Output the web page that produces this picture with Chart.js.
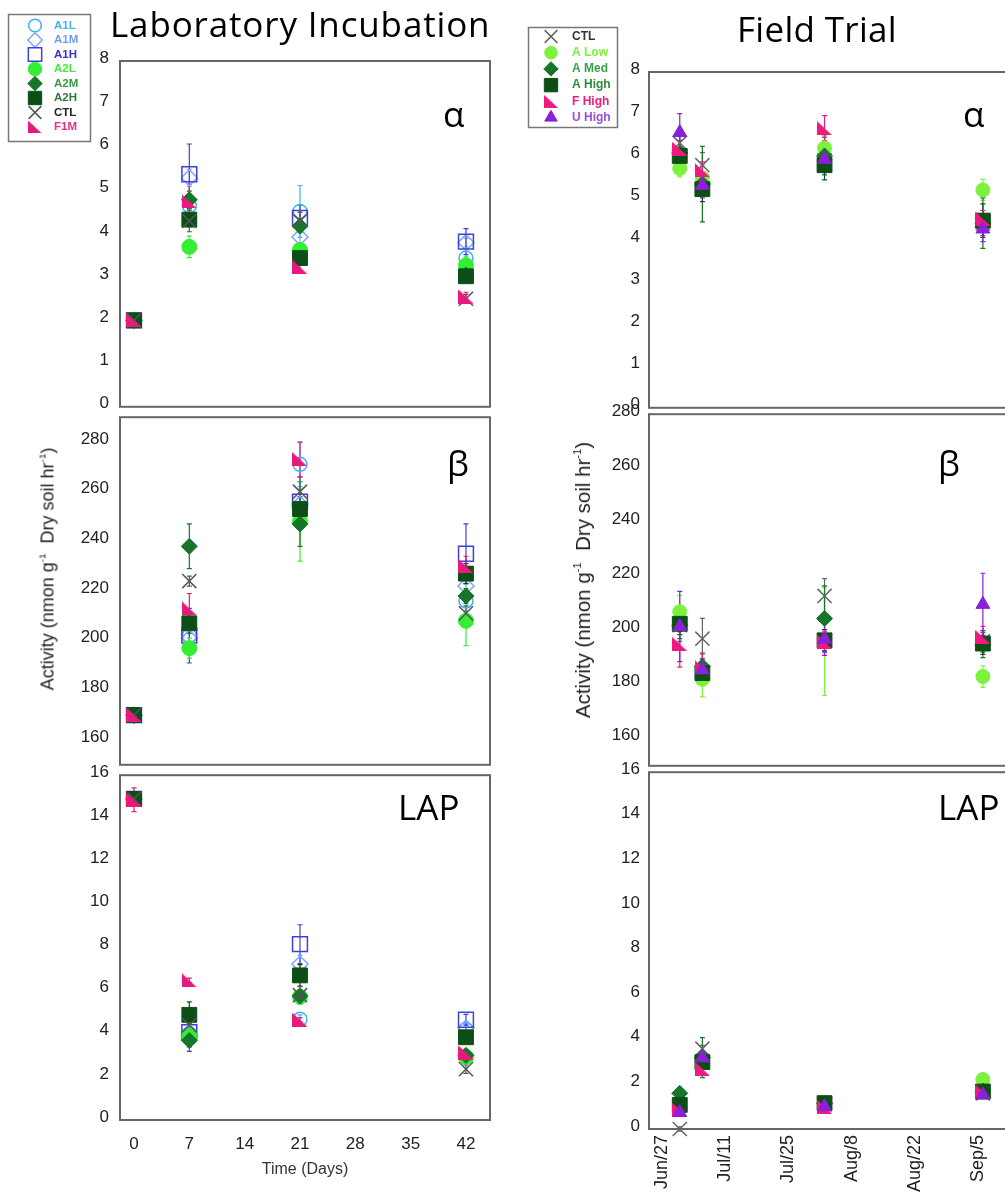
<!DOCTYPE html>
<html><head><meta charset="utf-8">
<script src="https://cdn.jsdelivr.net/npm/chart.js@4.4.1/dist/chart.umd.min.js"></script>
<style>
html,body{margin:0;padding:0;background:#fff;overflow:hidden;width:1005px;height:1196px;}
canvas{position:absolute;}
.txt{position:absolute;white-space:nowrap;color:#000;}
.big{font-family:'Open Sans',sans-serif;font-size:35px;line-height:35px;}
.ylab{font-family:'Liberation Sans',Arial,sans-serif;color:#222;transform:translate(-50%,-50%) rotate(-90deg);}
.ylab sup{font-size:0.55em;vertical-align:0.8em;line-height:0;}
#right{position:absolute;left:500px;top:0;width:505px;height:1196px;overflow:hidden;}
</style></head><body>
<canvas id="la" width="505" height="428" style="left:0;top:0"></canvas>
<canvas id="lb" width="505" height="390" style="left:0;top:396px"></canvas>
<canvas id="ll" width="505" height="442" style="left:0;top:754px"></canvas>
<div id="right">
<canvas id="ra" width="600" height="427" style="left:0;top:0"></canvas>
<canvas id="rb" width="600" height="390" style="left:0;top:395px"></canvas>
<canvas id="rl" width="600" height="443" style="left:0;top:753px"></canvas>
</div>
<div class="txt big" style="left:110px;top:6px;letter-spacing:0.85px">Laboratory Incubation</div>
<div class="txt big" style="left:737px;top:11px;letter-spacing:0.3px">Field Trial</div>
<div class="txt big" style="left:443px;top:96px">α</div>
<div class="txt big" style="left:447px;top:445px">β</div>
<div class="txt big" style="left:398px;top:789px">LAP</div>
<div class="txt big" style="left:963px;top:96px">α</div>
<div class="txt big" style="left:938px;top:445px">β</div>
<div class="txt big" style="left:938px;top:789px">LAP</div>
<div class="txt ylab" style="left:48px;top:569px;font-size:18px">Activity (nmon g<sup>-1</sup>&nbsp; Dry soil hr<sup>-1</sup>)</div>
<div class="txt ylab" style="left:583px;top:580px;font-size:20.5px">Activity (nmon g<sup>-1</sup>&nbsp; Dry soil hr<sup>-1</sup>)</div>
<script>
// ---------- DATA ----------
const labDays = [0, 7, 21, 42];
const labNames = ['A1L', 'A1M', 'A1H', 'A2L', 'A2M', 'A2H', 'CTL', 'F1M'];
const labXTicks = [0, 7, 14, 21, 28, 35, 42];
const labXTickLabels = ['0', '7', '14', '21', '28', '35', '42'];

const labAlphaMean = [
  [2.0, 4.65, 4.52, 3.44],
  [2.0, 5.30, 3.93, 3.80],
  [2.0, 5.38, 4.37, 3.82],
  [2.0, 3.70, 3.63, 3.27],
  [2.0, 4.79, 4.18, 3.05],
  [2.0, 4.33, 3.44, 3.02],
  [2.0, 4.30, 4.30, 2.50],
  [2.0, 4.75, 3.23, 2.55]
];
const labAlphaErr = [
  [0.05, 0.10, 0.60, 0.20],
  [0.05, 0.20, 0.20, 0.10],
  [0.05, 0.70, 0.30, 0.30],
  [0.05, 0.25, 0.15, 0.20],
  [0.05, 0.20, 0.15, 0.15],
  [0.05, 0.15, 0.15, 0.10],
  [0.05, 0.25, 0.20, 0.10],
  [0.05, 0.40, 0.10, 0.10]
];
const labBetaMean = [
  [170, 202, 271, 216],
  [170, 201, 255, 222],
  [170, 202, 256, 235],
  [170, 197, 248, 208],
  [170, 238, 247, 218],
  [170, 207, 253, 227],
  [170, 224, 260, 211],
  [170, 213, 273, 230]
];
const labBetaErr = [
  [1, 3, 9, 4],
  [1, 3, 6, 3],
  [1, 11, 8, 12],
  [1, 4, 16, 10],
  [1, 9, 9, 3],
  [1, 4, 5, 4],
  [1, 2, 6, 3],
  [1, 6, 7, 4]
];
const labLapMean = [
  [14.9, 4.00, 4.68, 4.20],
  [14.9, 3.90, 7.24, 4.27],
  [14.9, 4.08, 8.16, 4.65],
  [14.9, 3.89, 5.72, 2.93],
  [14.9, 3.69, 5.75, 3.00],
  [14.9, 4.88, 6.71, 3.84],
  [14.9, 4.40, 5.79, 2.36],
  [14.86, 6.48, 4.65, 3.13]
];
const labLapErr = [
  [0.2, 0.2, 0.2, 0.2],
  [0.2, 0.3, 0.4, 0.2],
  [0.2, 0.9, 0.9, 0.25],
  [0.2, 0.3, 0.3, 0.2],
  [0.2, 0.3, 0.3, 0.2],
  [0.2, 0.6, 0.5, 0.2],
  [0.2, 0.3, 0.4, 0.2],
  [0.55, 0.1, 0.1, 0.1]
];

// field: days after Jun 27
const fieldDays = [4, 9, 36, 71];
const fieldNames = ['CTL', 'A Low', 'A Med', 'A High', 'F High', 'U High'];
const fieldXTicks = [0, 14, 28, 42, 56, 70];
const fieldXTickLabels = ['Jun/27', 'Jul/11', 'Jul/25', 'Aug/8', 'Aug/22', 'Sep/5'];

const fieldAlphaMean = [
  [6.31, 5.78, 5.90, 4.40],
  [5.70, 5.48, 6.19, 5.19],
  [6.07, 5.33, 6.00, 4.40],
  [6.00, 5.21, 5.78, 4.46],
  [6.17, 5.66, 6.66, 4.50],
  [6.56, 5.30, 5.92, 4.26]
];
const fieldAlphaErr = [
  [0.2, 0.3, 0.3, 0.3],
  [0.2, 0.3, 0.3, 0.25],
  [0.5, 0.9, 0.45, 0.6],
  [0.2, 0.3, 0.35, 0.4],
  [0.2, 0.2, 0.3, 0.2],
  [0.45, 0.3, 0.3, 0.3]
];
const fieldBetaMean = [
  [202, 197, 212.8, 196],
  [207, 182, 196, 183],
  [202, 186.7, 204.5, 195],
  [202.5, 184.3, 196.4, 195.2],
  [195, 186.4, 195.8, 197.6],
  [201.5, 185.5, 196.8, 209.7]
];
const fieldBetaErr = [
  [6, 7.5, 6.4, 4],
  [6, 6.5, 20, 4],
  [5, 5, 12, 5],
  [4, 4, 4, 4],
  [8.5, 5, 4, 4],
  [13, 4, 6, 11.5]
];
const fieldLapMean = [
  [0.00, 3.60, 1.10, 1.60],
  [1.00, 3.00, 1.10, 2.22],
  [1.60, 3.20, 1.15, 1.70],
  [1.08, 3.00, 1.16, 1.68],
  [0.86, 2.70, 1.00, 1.68],
  [0.74, 3.19, 1.00, 1.53]
];
const fieldLapErr = [
  [0.1, 0.15, 0.1, 0.1],
  [0.15, 0.3, 0.1, 0.1],
  [0.15, 0.9, 0.1, 0.1],
  [0.15, 0.3, 0.1, 0.1],
  [0.1, 0.2, 0.1, 0.1],
  [0.1, 0.3, 0.1, 0.1]
];

const alphaTicks = [0, 1, 2, 3, 4, 5, 6, 7, 8];
const labBetaTicks = [160, 180, 200, 220, 240, 260, 280];
const fieldBetaTicks = [160, 180, 200, 220, 240, 260, 280];
const lapTicks = [0, 2, 4, 6, 8, 10, 12, 14, 16];

// ---------- STYLES ----------
function rightTri(color, w, h) {
  const c = document.createElement('canvas'); c.width = w; c.height = h;
  const g = c.getContext('2d'); g.fillStyle = color;
  g.beginPath(); g.moveTo(0, 0); g.lineTo(0, h); g.lineTo(w, h); g.closePath(); g.fill();
  return c;
}
const CLEAR = 'rgba(0,0,0,0)';
const labStyles = [
  {ps: 'circle', r: 7, fill: CLEAR, stroke: '#3cb4f0', bw: 1.5, text: '#3cb4f0'},
  {ps: 'rectRot', r: 8, fill: CLEAR, stroke: '#7fa6f5', bw: 1.5, text: '#6f9cf5'},
  {ps: 'rect', r: 10.5, fill: CLEAR, stroke: '#4040d8', bw: 1.5, text: '#3535cc'},
  {ps: 'circle', r: 7.5, fill: '#33ee33', stroke: '#33ee33', bw: 1, text: '#3cf03c'},
  {ps: 'rectRot', r: 8, fill: '#17752a', stroke: '#17752a', bw: 1, text: '#3a9a48'},
  {ps: 'rect', r: 10.5, fill: '#0b4f17', stroke: '#0b4f17', bw: 1, text: '#2a7a36'},
  {ps: 'crossRot', r: 10, fill: CLEAR, stroke: '#555555', bw: 1.5, text: '#222222'},
  {ps: rightTri('#e8197d', 15, 14), r: 8, fill: '#e8197d', stroke: '#e8197d', bw: 1, text: '#ee2a8a'}
];
const fieldStyles = [
  {ps: 'crossRot', r: 10, fill: CLEAR, stroke: '#666666', bw: 1.5, text: '#333333'},
  {ps: 'circle', r: 7, fill: '#7cf23c', stroke: '#7cf23c', bw: 1, text: '#7cf23c'},
  {ps: 'rectRot', r: 8, fill: '#17752a', stroke: '#17752a', bw: 1, text: '#3aa04a'},
  {ps: 'rect', r: 10.5, fill: '#0b4f17', stroke: '#0b4f17', bw: 1, text: '#2f8a3c'},
  {ps: rightTri('#ee1a7f', 15, 14), r: 8, fill: '#ee1a7f', stroke: '#ee1a7f', bw: 1, text: '#ee1a7f'},
  {ps: 'triangle', r: 8, fill: '#8c1fd8', stroke: '#8c1fd8', bw: 1, text: '#9a4de0'}
];

// ---------- PLUGINS ----------
const frame = {
  id: 'frame',
  beforeDatasetsDraw(chart) {
    const {ctx, chartArea: a} = chart;
    ctx.save(); ctx.strokeStyle = '#666'; ctx.lineWidth = 2;
    ctx.strokeRect(a.left, a.top, a.right - a.left, a.bottom - a.top);
    ctx.restore();
  }
};
const errorBars = {
  id: 'errorBars',
  beforeDatasetsDraw(chart) {
    const ctx = chart.ctx, xs = chart.scales.x, ys = chart.scales.y;
    chart.data.datasets.forEach(ds => {
      if (!ds.errors) return;
      ctx.save(); ctx.strokeStyle = ds.borderColor === CLEAR ? '#555' : ds.borderColor; ctx.lineWidth = 1.2;
      ds.data.forEach((p, j) => {
        const e = ds.errors[j]; if (!e) return;
        const x = xs.getPixelForValue(p.x);
        const y1 = ys.getPixelForValue(p.y + e), y2 = ys.getPixelForValue(p.y - e);
        ctx.beginPath();
        ctx.moveTo(x, y1); ctx.lineTo(x, y2);
        ctx.moveTo(x - 2.5, y1); ctx.lineTo(x + 2.5, y1);
        ctx.moveTo(x - 2.5, y2); ctx.lineTo(x + 2.5, y2);
        ctx.stroke();
      });
      ctx.restore();
    });
  }
};
function legendMark(ctx, ds, x, y, k) {
  ctx.save();
  ctx.fillStyle = ds.backgroundColor; ctx.strokeStyle = ds.borderColor; ctx.lineWidth = ds.borderWidth;
  const ps = ds.pointStyle;
  if (typeof ps !== 'string') {
    const w = ps.width * k, h = ps.height * k;
    ctx.drawImage(ps, x - w / 2, y - h / 2, w, h);
  } else {
    Chart.helpers.drawPoint(ctx, {pointStyle: ps, radius: ds.pointRadius * k, rotation: 0, borderWidth: ds.borderWidth}, x, y);
  }
  ctx.restore();
}
const boxLegend = {
  id: 'boxLegend',
  afterDraw(chart, args, o) {
    if (!o || !o.show) return;
    const ctx = chart.ctx; ctx.save();
    ctx.fillStyle = '#fff'; ctx.fillRect(o.x, o.y, o.w, o.h);
    ctx.strokeStyle = '#777'; ctx.lineWidth = 1.5; ctx.strokeRect(o.x, o.y, o.w, o.h);
    chart.data.datasets.forEach((ds, i) => {
      const yy = o.y0 + i * o.pitch;
      legendMark(ctx, ds, o.mx, yy, o.k);
      ctx.fillStyle = o.colors[i]; ctx.font = o.font;
      ctx.textBaseline = 'middle'; ctx.textAlign = 'left';
      ctx.fillText(ds.label, o.tx, yy);
    });
    ctx.restore();
  }
};

// ---------- PANEL BUILDER ----------
const TICKFONT = {family: "'Liberation Sans', Arial, sans-serif", size: 17};
function panel(id, c) {
  const n = c.names.length;
  const datasets = c.names.map((name, i) => ({
    label: name,
    order: n - i,
    data: c.xs.map((x, j) => ({x: x, y: c.means[i][j]})),
    errors: c.errs[i],
    pointStyle: c.styles[i].ps,
    pointRadius: c.styles[i].r,
    backgroundColor: c.styles[i].fill,
    borderColor: c.styles[i].stroke,
    borderWidth: c.styles[i].bw,
    showLine: false,
    clip: false
  }));
  return new Chart(document.getElementById(id), {
    type: 'scatter',
    data: {datasets},
    plugins: [frame, errorBars, boxLegend],
    options: {
      responsive: false, animation: false, events: [],
      layout: {padding: c.pad},
      plugins: {
        legend: {display: false}, tooltip: {enabled: false},
        boxLegend: c.legend || {show: false}
      },
      scales: {
        x: {
          type: 'linear', min: c.xMin, max: c.xMax, display: c.showX,
          grid: {display: false, drawTicks: false}, border: {display: false},
          afterBuildTicks: s => { s.ticks = c.xTicks.map(v => ({value: v})); },
          afterFit: s => { if (c.showX) s.height = c.xHeight; },
          ticks: {
            autoSkip: false, minRotation: c.xRot || 0, maxRotation: c.xRot || 0,
            padding: c.xPad || 0, font: {family: TICKFONT.family, size: c.xFont || 17}, color: '#222',
            callback: (v, i) => c.xLabels[i]
          },
          title: c.xTitle ? {display: true, text: c.xTitle, font: {family: TICKFONT.family, size: 16}, color: '#333', padding: {top: 2, bottom: 3}} : {display: false}
        },
        y: {
          type: 'linear', min: c.yMin, max: c.yMax,
          grid: {display: false, drawTicks: false}, border: {display: false},
          afterBuildTicks: s => { s.ticks = c.yTicks.map(v => ({value: v})); },
          afterFit: s => { s.width = c.yWidth; },
          ticks: {padding: c.yPad, labelOffset: -3, font: TICKFONT, color: '#222'}
        }
      }
    }
  });
}

const labX = {xMin: -1.77, xMax: 45.04, xTicks: labXTicks, xLabels: labXTickLabels, yWidth: 120, yPad: 11};
const fieldX = {xMin: -2.8, xMax: 93.35, xTicks: fieldXTicks, xLabels: fieldXTickLabels, yWidth: 149, yPad: 9};

panel('la', Object.assign({}, labX, {
  names: labNames, styles: labStyles, xs: labDays, means: labAlphaMean, errs: labAlphaErr,
  yMin: 0, yMax: 8, yTicks: alphaTicks, showX: false,
  pad: {top: 61, bottom: 16, left: 0, right: 15},
  legend: {show: true, x: 8.5, y: 14.5, w: 82, h: 127, y0: 25.5, pitch: 14.5, mx: 35, tx: 54, k: 0.9,
           font: "bold 11.5px 'Liberation Sans', Arial, sans-serif", colors: labStyles.map(s => s.text)}
}));
panel('lb', Object.assign({}, labX, {
  names: labNames, styles: labStyles, xs: labDays, means: labBetaMean, errs: labBetaErr,
  yMin: 150, yMax: 290, yTicks: labBetaTicks, showX: false,
  pad: {top: 16, bottom: 16, left: 0, right: 15}
}));
panel('ll', Object.assign({}, labX, {
  names: labNames, styles: labStyles, xs: labDays, means: labLapMean, errs: labLapErr,
  yMin: 0, yMax: 16, yTicks: lapTicks, showX: true, xHeight: 62, xPad: 14, xTitle: 'Time (Days)',
  pad: {top: 16, bottom: 14, left: 0, right: 15}
}));
panel('ra', Object.assign({}, fieldX, {
  names: fieldNames, styles: fieldStyles, xs: fieldDays, means: fieldAlphaMean, errs: fieldAlphaErr,
  yMin: 0, yMax: 8, yTicks: alphaTicks, showX: false,
  pad: {top: 72, bottom: 16, left: 0, right: 16},
  legend: {show: true, x: 28.5, y: 27.5, w: 89, h: 100, y0: 36.5, pitch: 16.2, mx: 51, tx: 72, k: 0.9,
           font: "bold 12px 'Liberation Sans', Arial, sans-serif", colors: fieldStyles.map(s => s.text)}
}));
panel('rb', Object.assign({}, fieldX, {
  names: fieldNames, styles: fieldStyles, xs: fieldDays, means: fieldBetaMean, errs: fieldBetaErr,
  yMin: 150, yMax: 280, yTicks: fieldBetaTicks, showX: false,
  pad: {top: 16, bottom: 16, left: 0, right: 16}
}));
panel('rl', Object.assign({}, fieldX, {
  names: fieldNames, styles: fieldStyles, xs: fieldDays, means: fieldLapMean, errs: fieldLapErr,
  yMin: 0, yMax: 16, yTicks: lapTicks, showX: true, xHeight: 67, xPad: 6, xRot: 90, xFont: 18,
  pad: {top: 16, bottom: 0, left: 0, right: 16}
}));
</script>
</body></html>
